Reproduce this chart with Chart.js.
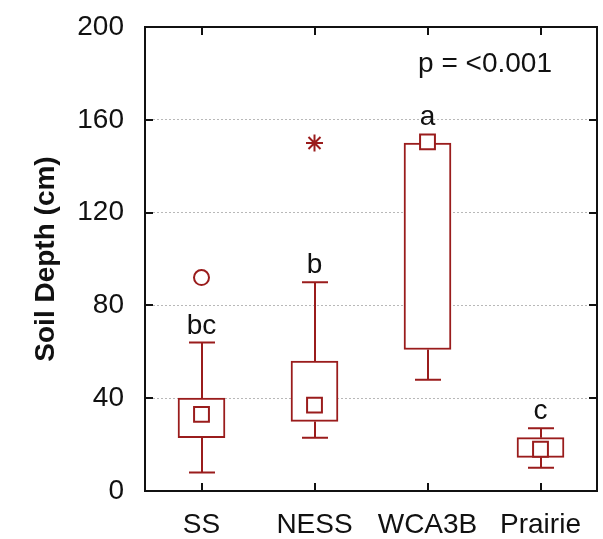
<!DOCTYPE html>
<html>
<head>
<meta charset="utf-8">
<script src="https://cdn.jsdelivr.net/npm/chart.js@4/dist/chart.umd.min.js"></script>
<style>
  html, body { margin: 0; padding: 0; background: #fff; }
  #wrap { width: 603px; height: 539px; }
</style>
</head>
<body>
<div id="wrap"><canvas id="boxChart"></canvas></div>
<script>
const categories = ['SS', 'NESS', 'WCA3B', 'Prairie'];
const whiskerLow = [8, 23, 48, 10];
const q1 = [23, 30, 61, 14.5];
const median = [33, 37, 150.5, 18];
const q3 = [40, 56, 150, 23];
const whiskerHigh = [64, 90, 150, 27];
const outliers = [92, null, null, null];
const extremes = [null, 150, null, null];
const letters = ['bc', 'b', 'a', 'c'];
const yTicks = [0, 40, 80, 120, 160, 200];
const pText = 'p = <0.001';

const boxColor = '#9a1c1c';
const fontFamily = '"Liberation Sans", Arial, sans-serif';

const boxPlot = {
	id: 'boxPlot',
	beforeDatasetsDraw(chart) {
		const { ctx, scales: { x, y } } = chart;
		ctx.save();
		ctx.strokeStyle = boxColor;
		ctx.lineWidth = 2;
		categories.forEach((c, i) => {
			const px = Math.round(x.getPixelForValue(i));
			[[q3[i], whiskerHigh[i]], [q1[i], whiskerLow[i]]].forEach(([from, to]) => {
				if (from === to) return;
				const yTo = y.getPixelForValue(to);
				ctx.beginPath();
				ctx.moveTo(px, y.getPixelForValue(from));
				ctx.lineTo(px, yTo);
				ctx.moveTo(px - 13, yTo);
				ctx.lineTo(px + 13, yTo);
				ctx.stroke();
			});
		});
		ctx.restore();
	},
	afterDraw(chart) {
		const { ctx, chartArea: a, scales: { x, y } } = chart;
		ctx.save();
		// frame + inward ticks
		ctx.strokeStyle = '#111';
		ctx.lineWidth = 2;
		ctx.strokeRect(a.left, a.top, a.right - a.left, a.bottom - a.top);
		ctx.beginPath();
		yTicks.slice(1, -1).forEach(v => {
			const py = Math.round(y.getPixelForValue(v));
			ctx.moveTo(a.left, py); ctx.lineTo(a.left + 8, py);
			ctx.moveTo(a.right, py); ctx.lineTo(a.right - 8, py);
		});
		categories.forEach((c, i) => {
			const px = Math.round(x.getPixelForValue(i));
			ctx.moveTo(px, a.top); ctx.lineTo(px, a.top + 8);
			ctx.moveTo(px, a.bottom); ctx.lineTo(px, a.bottom - 8);
		});
		ctx.stroke();

		// significance letters
		ctx.fillStyle = '#111';
		ctx.font = '28px ' + fontFamily;
		ctx.textAlign = 'center';
		ctx.textBaseline = 'alphabetic';
		letters.forEach((t, i) => {
			const top = Math.min(y.getPixelForValue(whiskerHigh[i]), y.getPixelForValue(median[i]) - 8);
			ctx.fillText(t, x.getPixelForValue(i), top - 9);
		});

		ctx.textAlign = 'right';
		ctx.fillText(pText, a.right - 45, a.top + 45);
		ctx.restore();
	}
};

new Chart(document.getElementById('boxChart'), {
	type: 'bar',
	data: {
		labels: categories,
		datasets: [
			{
				type: 'line',
				label: 'Outliers',
				data: outliers,
				showLine: false,
				pointStyle: 'circle',
				pointRadius: 7.5,
				pointBorderWidth: 2,
				pointBorderColor: boxColor,
				pointBackgroundColor: '#fff',
				order: 0
			},
			{
				type: 'line',
				label: 'Extremes',
				data: extremes,
				showLine: false,
				pointStyle: 'star',
				pointRadius: 8.5,
				pointBorderWidth: 2,
				pointBorderColor: boxColor,
				order: 0
			},
			{
				type: 'line',
				label: 'Median',
				data: median,
				showLine: false,
				pointStyle: 'rect',
				pointRadius: 10.5,
				pointBorderWidth: 2,
				pointBorderColor: boxColor,
				pointBackgroundColor: '#fff',
				order: 1
			},
			{
				label: '25%-75%',
				data: categories.map((c, i) => [q1[i], q3[i]]),
				backgroundColor: '#fff',
				borderColor: boxColor,
				borderWidth: 2,
				borderSkipped: false,
				barThickness: 47,
				order: 3
			}
		]
	},
	options: {
		responsive: true,
		maintainAspectRatio: false,
		animation: false,
		layout: { autoPadding: false, padding: { top: 27, right: 6, left: 0, bottom: 0 } },
		plugins: {
			legend: { display: false },
			tooltip: { enabled: false }
		},
		scales: {
			x: {
				offset: true,
				grid: { display: false, drawTicks: false },
				border: { display: false },
				ticks: { color: '#111', padding: 17, font: { size: 28, family: fontFamily } },
				afterFit: s => { s.height = 48; s.paddingLeft = 0; s.paddingRight = 0; }
			},
			y: {
				min: 0,
				max: 200,
				afterBuildTicks: s => { s.ticks = yTicks.map(v => ({ value: v })); },
				grid: {
					drawTicks: false,
					color: c => (c.tick && (c.tick.value === 0 || c.tick.value === 200)) ? 'rgba(0,0,0,0)' : '#b8b8b8',
					lineWidth: 1
				},
				border: { display: false, dash: [2, 2] },
				ticks: { color: '#111', padding: 21, font: { size: 28, family: fontFamily } },
				title: {
					display: true,
					text: 'Soil Depth (cm)',
					color: '#111',
					font: { size: 28, weight: 'bold', family: fontFamily },
					padding: { top: 29, bottom: 0 }
				},
				afterFit: s => { s.width = 145; s.paddingTop = 0; s.paddingBottom = 0; }
			}
		}
	},
	plugins: [boxPlot]
});
</script>
</body>
</html>
